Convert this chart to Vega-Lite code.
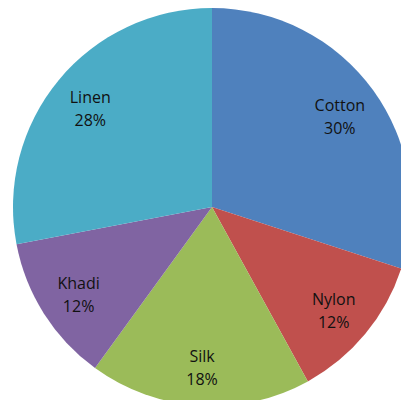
{
  "$schema": "https://vega.github.io/schema/vega-lite/v6.json",
  "width": 424,
  "height": 414,
  "autosize": "none",
  "padding": 0,
  "background": "white",
  "config": {"view": {"stroke": null}},
  "data": {
    "values": [
      {"fabric": "Cotton", "share": 30, "ord": 1, "label": "Cotton\n30%"},
      {"fabric": "Nylon", "share": 12, "ord": 2, "label": "Nylon\n12%"},
      {"fabric": "Silk", "share": 18, "ord": 3, "label": "Silk\n18%"},
      {"fabric": "Khadi", "share": 12, "ord": 4, "label": "Khadi\n12%"},
      {"fabric": "Linen", "share": 28, "ord": 5, "label": "Linen\n28%"}
    ]
  },
  "encoding": {
    "theta": {"field": "share", "type": "quantitative", "stack": true},
    "order": {"field": "ord", "type": "quantitative"}
  },
  "layer": [
    {
      "mark": {"type": "arc", "outerRadius": 199},
      "encoding": {
        "color": {
          "field": "fabric",
          "type": "nominal",
          "scale": {
            "domain": ["Cotton", "Nylon", "Silk", "Khadi", "Linen"],
            "range": ["#4F81BD", "#C0504D", "#9BBB59", "#8064A2", "#4BACC6"]
          },
          "legend": null
        }
      }
    },
    {
      "mark": {"type": "text", "radius": 158, "dy": -8, "fontSize": 16, "font": "Open Sans", "color": "#111111", "lineBreak": "\n", "lineHeight": 23, "align": "center", "baseline": "middle"},
      "encoding": {
        "text": {"field": "label", "type": "nominal"}
      }
    }
  ]
}
